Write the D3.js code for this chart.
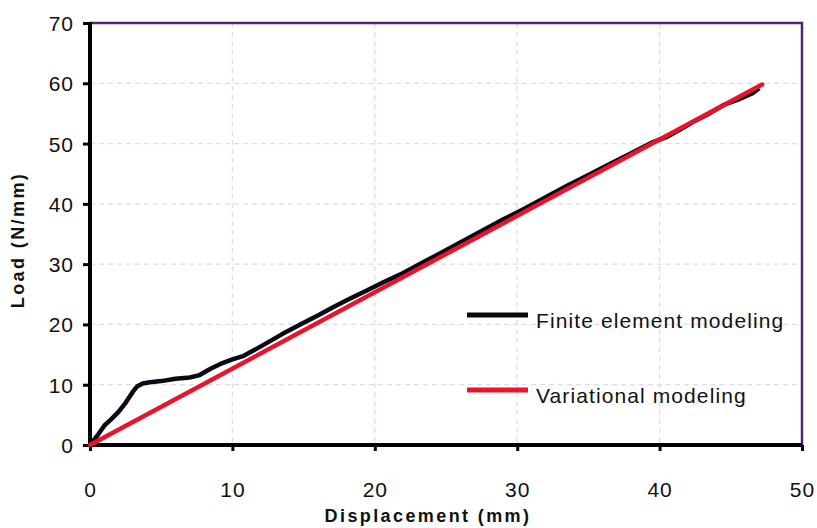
<!DOCTYPE html>
<html>
<head>
<meta charset="utf-8">
<script src="https://cdn.jsdelivr.net/npm/d3@7/dist/d3.min.js"></script>
<style>
  body { margin: 0; background: #fff; }
  text { font-family: "Liberation Sans", Arial, sans-serif; fill: #111; }
  .grid line { stroke: #e0d9f2; stroke-width: 1.3px; stroke-dasharray: 5,4; }
</style>
</head>
<body>
<svg id="chart" width="817" height="528"></svg>
<script>
// finite element curve (displacement mm, load N/mm)
var feX = [0, 0.5, 1, 1.5, 2, 2.5, 3, 3.3, 3.7, 4.2, 5, 6, 7, 7.7, 8.5, 9.3, 10, 10.8, 11.5, 12.4,
           13.5, 14.7, 16, 17.1, 18.2, 19.4, 20.6, 21.8, 23, 24.5, 26, 27.5, 29, 30.5, 32, 33.5,
           35, 36.5, 38, 39.5, 40.5, 41.5, 42.5, 43.5, 44.5, 45.5, 46.5, 47];
var feY = [0, 1.5, 3.2, 4.3, 5.5, 7, 8.8, 9.7, 10.2, 10.4, 10.6, 11, 11.2, 11.6, 12.7, 13.6, 14.2, 14.8, 15.7, 16.9,
           18.4, 19.9, 21.5, 22.9, 24.2, 25.6, 27, 28.3, 29.8, 31.7, 33.6, 35.5, 37.4, 39.2, 41.1, 43,
           44.8, 46.6, 48.4, 50.2, 51.1, 52.4, 53.8, 55, 56.4, 57.3, 58.3, 59.2];
// variational model (straight line)
var varX = [0, 47.2];
var varY = [0, 59.8];

var xTicks = [0, 10, 20, 30, 40, 50];
var yTicks = [0, 10, 20, 30, 40, 50, 60, 70];
var seriesNames = ["Finite element modeling", "Variational modeling"];
var seriesColors = ["#0a0a14", "#e8142c"];

var svg = d3.select("#chart");
var pL = 90, pR = 802, pT = 23, pB = 445;

var x = d3.scaleLinear().domain([0, 50]).range([pL, pR]);
var y = d3.scaleLinear().domain([0, 70]).range([pB, pT]);

// grid
var grid = svg.append("g").attr("class", "grid");
grid.selectAll("line.h").data(yTicks.slice(1, -1)).enter().append("line")
    .attr("x1", pL).attr("x2", pR)
    .attr("y1", function(d) { return y(d); }).attr("y2", function(d) { return y(d); });
grid.selectAll("line.v").data(xTicks.slice(1, -1)).enter().append("line")
    .attr("y1", pT).attr("y2", pB)
    .attr("x1", function(d) { return x(d); }).attr("x2", function(d) { return x(d); });

// top & right frame
svg.append("path")
    .attr("d", "M" + pL + "," + pT + "H" + pR + "V" + pB)
    .attr("fill", "none").attr("stroke", "#4a2a68").attr("stroke-width", 2.5);

// axes
var yAxis = svg.append("g").attr("transform", "translate(" + pL + ",0)")
    .call(d3.axisLeft(y).tickValues(yTicks).tickSize(7).tickPadding(9).tickFormat(d3.format("d")));
var xAxis = svg.append("g").attr("transform", "translate(0," + pB + ")")
    .call(d3.axisBottom(x).tickValues(xTicks).tickSize(6).tickPadding(31).tickFormat(d3.format("d")));

[xAxis, yAxis].forEach(function(a) {
  a.select(".domain").attr("stroke", "#000").attr("stroke-width", 4);
  a.selectAll(".tick line").attr("stroke", "#000").attr("stroke-width", 3);
  a.selectAll(".tick text").style("font-size", "21px").style("letter-spacing", "1px")
    .attr("fill", "#111");
});
yAxis.select(".domain").attr("d", "M0," + (pT - 1) + "V" + (pB + 2));
xAxis.select(".domain").attr("d", "M" + (pL - 2) + ",0H" + pR);
yAxis.selectAll(".tick text").attr("dy", "0.36em");

// lines
var line = d3.line().x(function(d) { return x(d[0]); }).y(function(d) { return y(d[1]); });
svg.append("path").datum(d3.zip(feX, feY))
    .attr("d", line).attr("fill", "none").attr("stroke", seriesColors[0])
    .attr("stroke-width", 4.5).attr("stroke-linejoin", "round");
svg.append("path").datum(d3.zip(varX, varY))
    .attr("d", line).attr("fill", "none").attr("stroke", seriesColors[1])
    .attr("stroke-width", 4.5).attr("stroke-linecap", "round");

// legend
var legendY = [315, 390];
seriesNames.forEach(function(name, i) {
  svg.append("line").attr("x1", 467).attr("x2", 528)
      .attr("y1", legendY[i]).attr("y2", legendY[i])
      .attr("stroke", seriesColors[i]).attr("stroke-width", 5);
  svg.append("text").attr("x", 536).attr("y", legendY[i] + 13)
      .style("font-size", "21px").style("letter-spacing", "1.1px")
      .text(name);
});

// axis titles
svg.append("text").attr("x", 428).attr("y", 522).attr("text-anchor", "middle")
    .style("font-size", "18px").style("font-weight", "bold").style("letter-spacing", "2.4px")
    .text("Displacement (mm)");
svg.append("text").attr("transform", "translate(24,240) rotate(-90)").attr("text-anchor", "middle")
    .style("font-size", "18px").style("font-weight", "bold").style("letter-spacing", "2.4px")
    .text("Load (N/mm)");
</script>
</body>
</html>
